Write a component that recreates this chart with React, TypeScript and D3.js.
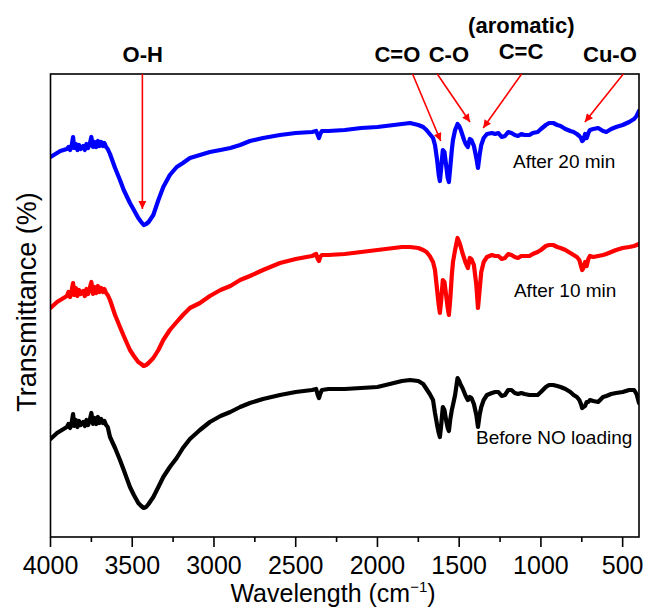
import React from 'react';
import * as d3 from 'd3';

// Wavenumbers (cm^-1) shared by the three spectra
const WAVENUMBERS = [4000,3980,3960,3940,3920,3900,3890,3880,3870,3862,3855,3845,3835,3825,3815,3800,3790,3780,3770,3760,3750,3740,3730,3720,3710,3700,3690,3680,3670,3660,3650,
  3636,3605,3575,3552,3514,3490,3463,3445,3430,3415,3400,3371,3340,3310,3270,3228,3190,3147,3086,3025,2960,2900,2840,2780,2700,2596,2500,2400,
  2375,2365,2358,2350,2340,2300,2200,2100,2000,1900,
  1850,1800,1750,1720,1700,1680,1660,1648,1635,1625,
  1618,1610,1600,1590,1580,1570,1563,1555,1545,1538,
  1525,1510,1500,1490,1480,1470,1460,1447,1435,1425,
  1410,1395,1385,1375,1365,1350,1330,1300,1280,1260,
  1240,1220,1200,1180,1160,1140,1120,1100,1070,1050,
  1020,1000,970,950,925,900,880,850,820,800,
  780,765,755,748,740,730,720,710,700,680,
  650,620,600,570,540,500,460,430,415,400];

// Transmittance (arbitrary units, offset spectra)
const AFTER_20_MIN = [443,445,447,449,450,451,453,450,455,463,452,456,450,455,451,454,450,456,452,456,463,453,458,453,459,454,458,454,457,453,451,
  446,432,420,410,397,390,382,378,375,376,378,385,400,413,425,433,437,442,445,448,450,452,455,459,462,465,467,468,
  469,465,462,466,469,469,470,472,473,475,
  476,477,475,473,470,466,462,455,440,425,
  419,432,450,448,435,422,418,432,450,460,
  470,476,474,470,465,460,456,453,461,460,
  454,442,432,445,455,462,466,467,466,467,
  463,464,468,467,465,464,466,465,465,467,
  468,471,475,477,477,475,474,471,469,468,
  466,464,462,459,460,466,462,467,470,471,
  472,469,468,471,473,475,478,481,484,489];

const AFTER_10_MIN = [292,295,298,300,302,304,308,303,310,317,305,312,304,310,306,309,304,311,306,312,318,306,313,307,314,308,312,308,311,307,305,
  300,285,273,264,250,244,238,236,234,235,237,242,250,260,270,278,285,292,297,304,310,314,320,324,330,337,341,344,
  346,341,339,343,345,345,346,348,350,352,
  353,353,352,350,348,344,338,330,310,295,
  287,300,320,318,305,292,285,300,325,338,
  350,362,358,353,347,342,337,332,342,341,
  335,315,292,310,328,338,343,345,344,344,
  341,342,346,345,343,342,344,344,344,346,
  348,350,354,355,355,353,352,350,347,345,
  343,340,334,330,332,338,334,341,344,343,
  344,345,346,348,350,352,353,354,355,356];

const BEFORE_NO = [161,164,167,169,171,173,176,172,178,186,174,180,173,179,175,178,174,180,175,180,187,176,182,176,183,177,181,177,179,175,173,
  163,152,140,130,113,105,97,94,92,93,96,103,113,123,133,142,152,161,170,178,184,188,193,197,201,205,208,210,
  211,205,202,206,210,211,211,212,213,217,
  219,220,219,216,211,206,200,187,175,167,
  163,175,193,190,180,172,169,180,190,195,
  205,222,219,215,212,208,204,200,203,202,
  196,185,173,185,193,200,205,207,208,208,
  204,205,210,210,207,206,207,206,205,205,
  205,208,213,215,215,214,213,211,208,205,
  203,200,196,192,193,194,198,198,200,199,
  198,203,204,206,207,208,210,210,206,197];

const SERIES_NAMES = ['After 20 min', 'After 10 min', 'Before NO loading'];
const SERIES_COLORS = ['#0000ff', '#ff0000', '#000000'];
const SERIES_VALUES = [AFTER_20_MIN, AFTER_10_MIN, BEFORE_NO];
const LABEL_WAVENUMBERS = [1171, 1165, 1397];
const LABEL_VALUES = [432, 303, 156];

const X_TICKS = [4000, 3500, 3000, 2500, 2000, 1500, 1000, 500];
const X_MINOR_TICKS = [3750, 3250, 2750, 2250, 1750, 1250, 750];

// Band annotations
const BAND_LABELS = ['O-H', 'C=O', 'C-O', 'C=C', 'Cu-O'];
const BAND_LABEL_WN = [3436, 1878, 1563, 1122, 578];
const BAND_ARROW_START_WN = [3438, 1785, 1634, 1118, 496];
const BAND_ARROW_TIP_WN = [3438, 1613, 1434, 1353, 731];
const BAND_ARROW_TIP_VAL = [391, 459, 478, 472, 478];

const W = 646, H = 610;
const M = { left: 50.5, right: 639, top: 74, bottom: 537 };
const FONT = 'Liberation Sans, Arial, Helvetica, sans-serif';

export default function App() {
  const x = d3.scaleLinear().domain([4000, 400]).range([M.left, M.right]);
  const y = d3.scaleLinear().domain([63, 526]).range([M.bottom, M.top]);
  const line = d3.line<[number, number]>().x(d => x(d[0])).y(d => y(d[1]));

  return (
    <svg width={W} height={H} style={{ position: 'absolute', left: 0, top: 0, background: '#fff' }} fontFamily={FONT}>
      <defs>
        <clipPath id="plotclip">
          <rect x={M.left} y={M.top} width={M.right - M.left} height={M.bottom - M.top} />
        </clipPath>
        <marker id="arrowhead" viewBox="0 0 10 10" refX="10" refY="5" markerWidth="9" markerHeight="8" markerUnits="userSpaceOnUse" orient="auto">
          <path d="M0,0 L10,5 L0,10 z" fill="#ff0000" />
        </marker>
      </defs>
      <rect x={0} y={0} width={W} height={H} fill="#fff" />

      <g clipPath="url(#plotclip)">
        {SERIES_VALUES.map((vals, i) => (
          <path key={SERIES_NAMES[i]}
            d={line(WAVENUMBERS.map((w, j) => [w, vals[j]] as [number, number])) || ''}
            fill="none" stroke={SERIES_COLORS[i]} strokeWidth={4.2} strokeLinejoin="round" strokeLinecap="round" />
        ))}
      </g>

      <rect x={M.left} y={M.top} width={M.right - M.left} height={M.bottom - M.top} fill="none" stroke="#000" strokeWidth={1.6} />

      {X_TICKS.map(t => (
        <g key={t}>
          <line x1={x(t)} x2={x(t)} y1={M.bottom} y2={M.bottom + 10} stroke="#000" strokeWidth={1.6} />
          <text x={x(t)} y={574} textAnchor="middle" fontSize={25} fill="#000">{t}</text>
        </g>
      ))}
      {X_MINOR_TICKS.map(t => (
        <line key={t} x1={x(t)} x2={x(t)} y1={M.bottom} y2={M.bottom + 5} stroke="#000" strokeWidth={1.6} />
      ))}

      <text x={333} y={602} textAnchor="middle" fontSize={25} fill="#000">
        Wavelength (cm<tspan fontSize={15} dy={-10}>−1</tspan><tspan dy={10}>)</tspan>
      </text>
      <text transform={`translate(36, 302) rotate(-90)`} textAnchor="middle" fontSize={27} fill="#000">Transmittance (%)</text>

      {SERIES_NAMES.map((n, i) => (
        <text key={n} x={x(LABEL_WAVENUMBERS[i])} y={y(LABEL_VALUES[i])} fontSize={19} fill="#000">{n}</text>
      ))}

      {BAND_LABELS.map((b, i) => (
        <g key={b}>
          <line x1={x(BAND_ARROW_START_WN[i])} y1={M.top} x2={x(BAND_ARROW_TIP_WN[i])} y2={y(BAND_ARROW_TIP_VAL[i])}
            stroke="#ff0000" strokeWidth={1.6} markerEnd="url(#arrowhead)" />
          <text x={x(BAND_LABEL_WN[i])} y={b === 'C=C' ? M.top - 15 : M.top - 12} textAnchor="middle" fontSize={22} fontWeight="bold" fill="#000">{b}</text>
        </g>
      ))}
      <text x={x(1120)} y={M.top - 41} textAnchor="middle" fontSize={22} fontWeight="bold" fill="#000">(aromatic)</text>
    </svg>
  );
}
